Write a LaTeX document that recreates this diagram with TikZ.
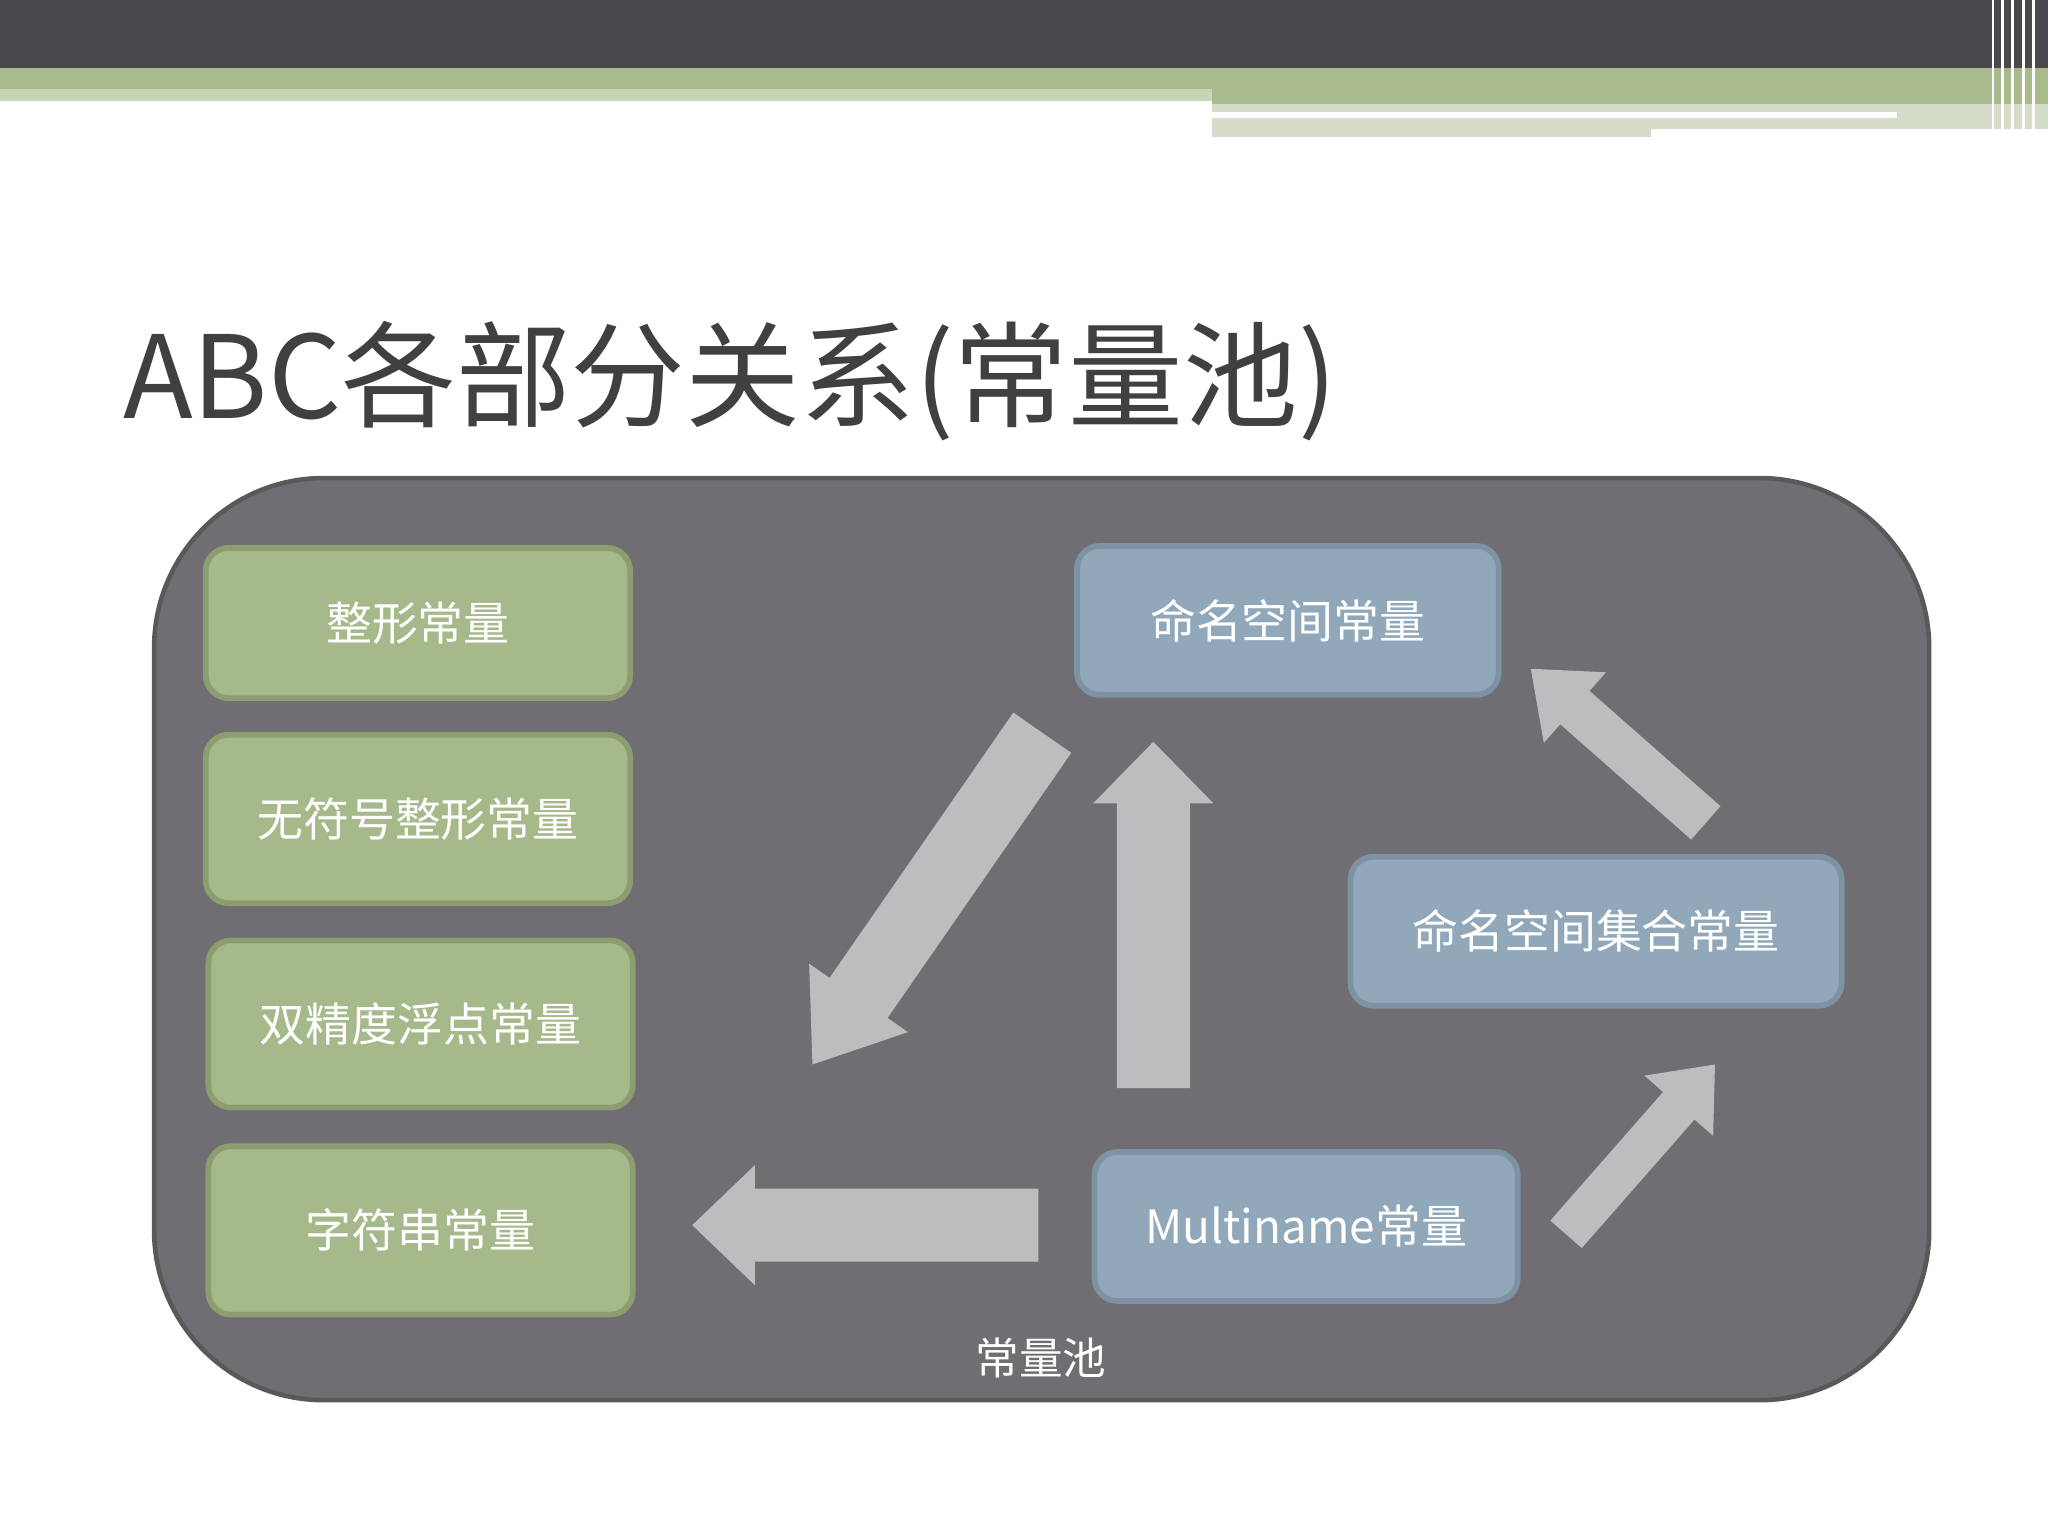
\documentclass[tikz,border=0pt]{standalone}
\usepackage{fontspec}
\setmainfont{Noto Sans CJK SC}
\begin{document}
\begin{tikzpicture}[x=0.02cm,y=-0.02cm,
  gbox/.style={draw=gborder,line width=2.5pt,fill=gfill,rounded corners=0.35cm,text=white,font=\fontsize{20}{24}\selectfont},
  bbox/.style={draw=bborder,line width=2.5pt,fill=bfill,rounded corners=0.35cm,text=white,font=\fontsize{20}{24}\selectfont}]
\definecolor{gfill}{HTML}{A6B98A}\definecolor{gborder}{HTML}{8C9E70}
\definecolor{bfill}{HTML}{90A8B9}\definecolor{bborder}{HTML}{7D93A3}
\definecolor{panel}{HTML}{706E73}\definecolor{arr}{HTML}{BDBCBF}
\definecolor{topdark}{HTML}{4A484C}\definecolor{topgreen}{HTML}{A9BB8C}
\definecolor{lgreen}{HTML}{C9D4B6}\definecolor{vlgreen}{HTML}{D5DDC8}
\newcommand\blockarrow[7]{%
  \pgfmathsetmacro\ang{atan2(-(#4-#2),#3-#1)}%
  \pgfmathsetmacro\len{0.02*veclen(#3-#1,#4-#2)}%
  \pgfmathsetmacro\hl{\len-0.02*#7}%
  \fill[arr,shift={(#1,#2)},rotate=\ang,x=1cm,y=1cm]
    (0,-0.02*#5)--(\hl,-0.02*#5)--(\hl,-0.02*#6)--(\len,0)--(\hl,0.02*#6)--(\hl,0.02*#5)--(0,0.02*#5)--cycle;}
\useasboundingbox (0,0) rectangle (1568,1176);
\fill[white] (0,0) rectangle (1568,1176);
% top bars
\fill[topdark] (0,0) rectangle (1568,52);
\fill[topgreen] (0,52) rectangle (1568,68);
\fill[lgreen] (0,68) rectangle (928,77);
\fill[topgreen] (928,68) rectangle (1568,80);
\fill[vlgreen] (928,80) rectangle (1568,105);
\fill[white] (928,86) rectangle (1452,90);
\fill[white] (1264,99) rectangle (1568,105);
\foreach \xx in {1525,1532,1540,1548,1556}{\fill[white] (\xx,0) rectangle (\xx+2,105);}
% title
\node[anchor=west,text=black!75,font=\fontsize{50}{60}\selectfont] (title) at (88,292) {ABC各部分关系(常量池)};
% panel
\draw[line width=2pt,draw=black!65,fill=panel,rounded corners=2.6cm] (118,366) rectangle (1477,1072);
\node[text=white,font=\fontsize{19}{23}\selectfont] (pool) at (797,1040) {常量池};
% green boxes
\node[gbox,minimum width=325*0.02cm,minimum height=115*0.02cm] (g1) at (320,477) {整形常量};
\node[gbox,minimum width=325*0.02cm,minimum height=129*0.02cm] (g2) at (320,627) {无符号整形常量};
\node[gbox,minimum width=325*0.02cm,minimum height=128*0.02cm] (g3) at (322,784) {双精度浮点常量};
\node[gbox,minimum width=325*0.02cm,minimum height=129*0.02cm] (g4) at (322,942) {字符串常量};
% blue boxes
\node[bbox,minimum width=323*0.02cm,minimum height=114*0.02cm] (b1) at (986,475) {命名空间常量};
\node[bbox,minimum width=376*0.02cm,minimum height=114*0.02cm] (b2) at (1222,713) {命名空间集合常量};
\node[bbox,minimum width=324*0.02cm,minimum height=114*0.02cm] (b3) at (1000,939) {Multiname常量};
% arrows
\blockarrow{798}{561}{622}{815}{27}{46}{62}
\blockarrow{883}{833}{883}{568}{28}{46}{47}
\blockarrow{795}{938}{530}{938}{28}{46}{48}
\blockarrow{1199}{945}{1313}{815}{16}{35}{42}
\blockarrow{1306}{630}{1172}{512}{17}{36}{45}
\end{tikzpicture}
\end{document}
